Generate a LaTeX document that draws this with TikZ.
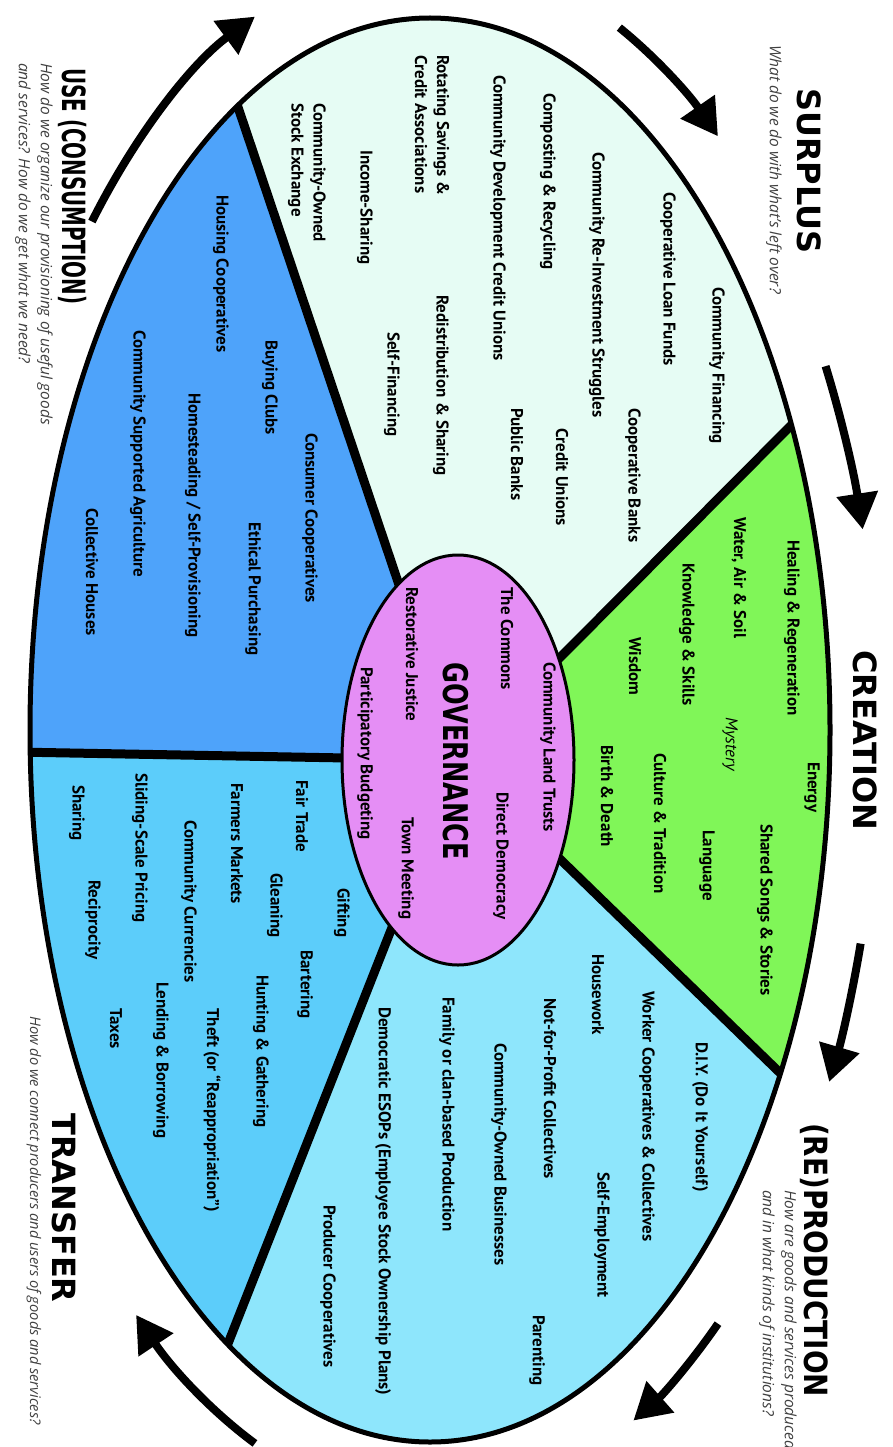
\documentclass[tikz,border=0pt]{standalone}
\usepackage{fontspec}
\setmainfont{PT Sans}
\newfontfamily\questionfont{Open Sans}
\newfontfamily\titlefont{DejaVu Sans}
\usepackage{graphicx}
\usetikzlibrary{arrows.meta}

\definecolor{surpluscol}{RGB}{230,252,244}
\definecolor{creationcol}{RGB}{128,246,88}
\definecolor{productioncol}{RGB}{142,230,252}
\definecolor{transfercol}{RGB}{92,205,250}
\definecolor{usecol}{RGB}{78,163,250}
\definecolor{governancecol}{RGB}{229,142,245}

\tikzset{
  item/.style={anchor=west, rotate=-90, inner sep=0pt,
    font=\fontsize{17}{22}\selectfont\bfseries},
  pair/.style={item, align=left},
  title/.style={anchor=west, rotate=-90, inner sep=0pt,
    font=\titlefont\bfseries\fontsize{32}{34}\selectfont},
  question/.style={anchor=west, rotate=-90, inner sep=0pt, align=left,
    text=black!75, font=\questionfont\itshape\fontsize{15.5}{22}\selectfont},
  divider/.style={line width=9pt},
  cyclearrow/.style={line width=8pt, -{Triangle[length=36pt,width=40pt]}},
}

\begin{document}
\begin{tikzpicture}[x=1pt, y=-1pt]
  \useasboundingbox (0,0) rectangle (893,1447);

  \coordinate (hub) at (458,760);
  \coordinate (rim) at (430,730);
  \coordinate (ray1) at (892,324);
  \coordinate (ray2) at (880,1170);
  \coordinate (ray3) at (162,1511);
  \coordinate (ray4) at (-96,750);
  \coordinate (ray5) at (181,-62);

  % sectors
  \begin{scope}
    \clip (rim) ellipse [x radius=400, y radius=712];
    \fill[surpluscol] (hub) -- (ray5) -- (900,-200) -- (ray1) -- cycle;
    \fill[creationcol] (hub) -- (ray1) -- (ray2) -- cycle;
    \fill[productioncol] (hub) -- (ray2) -- (880,1600) -- (ray3) -- cycle;
    \fill[transfercol] (hub) -- (ray3) -- (-100,1600) -- (ray4) -- cycle;
    \fill[usecol] (hub) -- (ray4) -- (-100,-100) -- (ray5) -- cycle;
    \foreach \r in {ray1,ray2,ray3,ray4,ray5}
      \draw[divider] (hub) -- (\r);
  \end{scope}
  \draw[line width=5pt] (rim) ellipse [x radius=400, y radius=712];
  \filldraw[fill=governancecol, line width=3pt] (hub) ellipse [x radius=116, y radius=205];

  % cycle arrows
  \draw[cyclearrow] (rim) ++(-65:448 and 775) arc[start angle=-65, end angle=-50, x radius=448, y radius=775];
  \draw[cyclearrow] (rim) ++(-28:448 and 775) arc[start angle=-28, end angle=-15, x radius=448, y radius=775];
  \draw[cyclearrow] (rim) ++(16:448 and 775) arc[start angle=16, end angle=27, x radius=448, y radius=775];
  \draw[cyclearrow] (rim) ++(50:448 and 775) arc[start angle=50, end angle=63, x radius=448, y radius=775];
  \draw[cyclearrow] (rim) ++(113:448 and 775) arc[start angle=113, end angle=131, x radius=448, y radius=775];
  \draw[cyclearrow] (rim) ++(221:448 and 775) arc[start angle=221, end angle=247, x radius=448, y radius=775];

  % titles
  \node[title] (surplus) at (809,88) {SURPLUS};
  \node[question] (surplusq) at (774,45) {What do we do with what’s left over?};
  \node[title] (creation) at (865,650) {CREATION};
  \node[title] (production) at (815,1123) {\scalebox{0.87}[1]{(RE)PRODUCTION}};
  \node[question] (productionq) at (778,1190) {How are goods and services produced\\and in what kinds of institutions?};
  \node[title] (use) at (73,68) {\scalebox{0.62}[1]{USE (CONSUMPTION)}};
  \node[question] (useq) at (34,63) {How do we organize our provisioning of useful goods\\and services? How do we get what we need?};
  \node[title] (transfer) at (64,1113) {TRANSFER};
  \node[question, font=\questionfont\itshape\fontsize{14.6}{22}\selectfont] (transferq) at (34,1016) {How do we connect producers and users of goods and services?};
  \node[rotate=-90, inner sep=0pt, font=\titlefont\bfseries\fontsize{34}{36}\selectfont] (governance) at (456,761) {\scalebox{0.75}[1]{GOVERNANCE}};

  % surplus
  \node[item] (commfin) at (717,287) {Community Financing};
  \node[item] (loanfunds) at (668,192) {Cooperative Loan Funds};
  \node[item] (coopbanks) at (633,408) {Cooperative Banks};
  \node[item] (reinvest) at (597,152) {Community Re-Investment Struggles};
  \node[item] (credunions) at (562,428) {Credit Unions};
  \node[item] (composting) at (548,93) {Composting \& Recycling};
  \node[item] (pubbanks) at (517,408) {Public Banks};
  \node[item] (cdcu) at (498,75) {Community Development Credit Unions};
  \node[item] (redistrib) at (441,295) {Redistribution \& Sharing};
  \node[pair] (rosca) at (432,55) {Rotating Savings \&\\Credit Associations};
  \node[item] (selffin) at (392,332) {Self-Financing};
  \node[item] (incomeshare) at (365,150) {Income-Sharing};
  \node[pair] (stockex) at (307,103) {Community-Owned\\Stock Exchange};

  % creation
  \node[item] (healing) at (792,540) {Healing \& Regeneration};
  \node[item] (energy) at (812,762) {Energy};
  \node[item] (songs) at (765,824) {Shared Songs \& Stories};
  \node[item] (water) at (739,517) {Water, Air \& Soil};
  \node[item, font=\fontsize{17}{22}\selectfont\itshape] (mystery) at (730,717) {Mystery};
  \node[item] (language) at (707,830) {Language};
  \node[item] (knowledge) at (687,563) {Knowledge \& Skills};
  \node[item] (culture) at (660,753) {Culture \& Tradition};
  \node[item] (wisdom) at (635,637) {Wisdom};
  \node[item] (birth) at (607,745) {Birth \& Death};

  % governance
  \node[item] (landtrusts) at (548,662) {Community Land Trusts};
  \node[item] (commons) at (507,587) {The Commons};
  \node[item] (directdem) at (501,792) {Direct Democracy};
  \node[item] (restorative) at (412,587) {Restorative Justice};
  \node[item] (townmeet) at (406,817) {Town Meeting};
  \node[item] (budgeting) at (365,667) {Participatory Budgeting};

  % use
  \node[item] (housingcoop) at (221,195) {Housing Cooperatives};
  \node[item] (buying) at (270,340) {Buying Clubs};
  \node[item] (consumer) at (310,433) {Consumer Cooperatives};
  \node[item] (csa) at (138,330) {Community Supported Agriculture};
  \node[item] (homestead) at (193,393) {Homesteading / Self-Provisioning};
  \node[item] (ethical) at (253,522) {Ethical Purchasing};
  \node[item] (collective) at (92,508) {Collective Houses};

  % transfer
  \node[item] (fairtrade) at (302,780) {Fair Trade};
  \node[item] (gifting) at (342,888) {Gifting};
  \node[item] (farmers) at (237,783) {Farmers Markets};
  \node[item] (gleaning) at (275,873) {Gleaning};
  \node[item] (bartering) at (305,950) {Bartering};
  \node[item] (currencies) at (189,820) {Community Currencies};
  \node[item] (hunting) at (261,975) {Hunting \& Gathering};
  \node[item] (theft) at (212,1008) {Theft (or “Reappropriation”)};
  \node[item] (sliding) at (140,773) {Sliding-Scale Pricing};
  \node[item] (lending) at (161,982) {Lending \& Borrowing};
  \node[item] (sharing) at (77,785) {Sharing};
  \node[item] (reciprocity) at (93,880) {Reciprocity};
  \node[item] (taxes) at (116,1008) {Taxes};

  % (re)production
  \node[item] (diy) at (700,1042) {D.I.Y. (Do It Yourself)};
  \node[item] (workercoop) at (647,991) {Worker Cooperatives \& Collectives};
  \node[item] (housework) at (598,954) {Housework};
  \node[item] (selfemploy) at (602,1172) {Self-Employment};
  \node[item] (nonprofit) at (550,998) {Not-for-Profit Collectives};
  \node[item] (parenting) at (537,1315) {Parenting};
  \node[item] (commowned) at (499,1043) {Community-Owned Businesses};
  \node[item] (family) at (447,997) {Family or clan-based Production};
  \node[item] (esops) at (383,1007) {Democratic ESOPs (Employee Stock Ownership Plans)};
  \node[item] (producer) at (328,1205) {Producer Cooperatives};
\end{tikzpicture}
\end{document}
